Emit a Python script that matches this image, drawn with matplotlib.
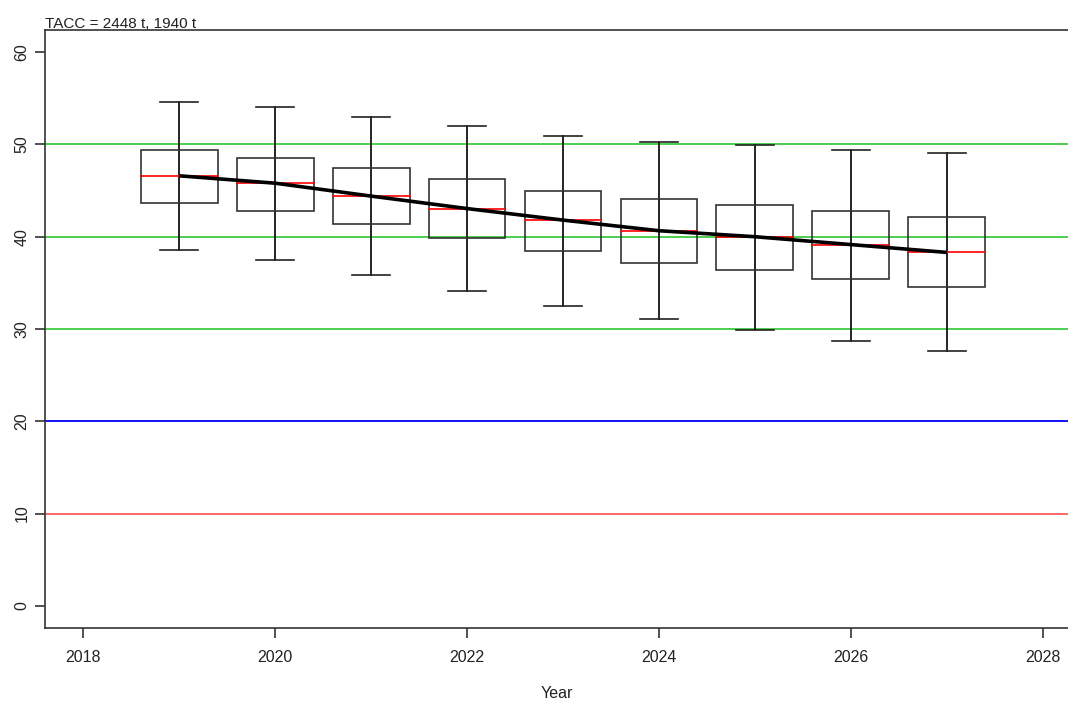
import matplotlib
matplotlib.use("Agg")
import matplotlib.pyplot as plt

plt.rcParams['font.family'] = ['Liberation Sans', 'DejaVu Sans']

years = [2019, 2020, 2021, 2022, 2023, 2024, 2025, 2026, 2027]
whisk_low = [38.6, 37.5, 35.8, 34.15, 32.5, 31.1, 29.9, 28.7, 27.6]
box_low = [43.7, 42.75, 41.35, 39.9, 38.5, 37.2, 36.4, 35.4, 34.6]
median = [46.6, 45.8, 44.4, 43.05, 41.8, 40.65, 40.0, 39.15, 38.3]
box_high = [49.4, 48.55, 47.5, 46.25, 45.0, 44.05, 43.45, 42.8, 42.1]
whisk_high = [54.65, 54.1, 53.0, 52.05, 50.95, 50.25, 49.9, 49.4, 49.1]

ref_green = [30, 40, 50]
ref_blue = 20
ref_red = 10

title = "TACC = 2448 t, 1940 t"
xlabel = "Year"
xticks = [2018, 2020, 2022, 2024, 2026, 2028]
yticks = [0, 10, 20, 30, 40, 50, 60]

W, H = 1068, 702
fig = plt.figure(figsize=(W / 100, H / 100), dpi=100)
left_px, right_px, top_px, bottom_px = 45, 1081, 30, 628
ax = fig.add_axes([left_px / W, 1 - bottom_px / H,
                   (right_px - left_px) / W, (bottom_px - top_px) / H])
ax.set_xlim(2017.6, 2028.4)
ax.set_ylim(-2.4, 62.4)

for g in ref_green:
    ax.axhline(g, color='#3ECB3E', lw=1.3, zorder=1)
ax.axhline(ref_blue, color='#0000FF', lw=1.3, zorder=1)
ax.axhline(ref_red, color='#FF5A5A', lw=1.3, zorder=1)

bw = 0.8
cw = 0.4
for i, x in enumerate(years):
    ax.plot([x, x], [whisk_low[i], whisk_high[i]], color='black', lw=1.2, zorder=2)
    ax.add_patch(plt.Rectangle((x - bw / 2, box_low[i]), bw, box_high[i] - box_low[i],
                               fill=False, edgecolor='#333333', lw=1.2, zorder=2))
    ax.plot([x - cw / 2, x + cw / 2], [whisk_low[i]] * 2, color='#222222', lw=1.2, zorder=2)
    ax.plot([x - cw / 2, x + cw / 2], [whisk_high[i]] * 2, color='#222222', lw=1.2, zorder=2)
    ax.plot([x - bw / 2, x + bw / 2], [median[i]] * 2, color='#FF0000', lw=1.2, zorder=3)

ax.plot(years, median, color='black', lw=2.6, zorder=4, solid_capstyle='butt')

ax.set_xticks(xticks)
ax.set_xticklabels([str(t) for t in xticks], fontsize=11.5, color='#222222')
ax.set_yticks(yticks)
ax.set_yticklabels([str(t) for t in yticks], fontsize=11.5, rotation=90, va='center', color='#222222')
ax.tick_params(axis='both', length=7, width=1.2, color='#333333', pad=9)
ax.tick_params(axis='y', pad=4)
for s in ax.spines.values():
    s.set_color('#333333')
    s.set_linewidth(1.2)

fig.text(left_px / W, 1 - 28 / H, title, fontsize=11, ha='left', va='baseline', color='#222222')
fig.text((left_px + 1068) / 2 / W, 1 - 693 / H, xlabel, fontsize=11.5, ha='center', va='center', color='#222222')

fig.savefig("out.png", dpi=100)
